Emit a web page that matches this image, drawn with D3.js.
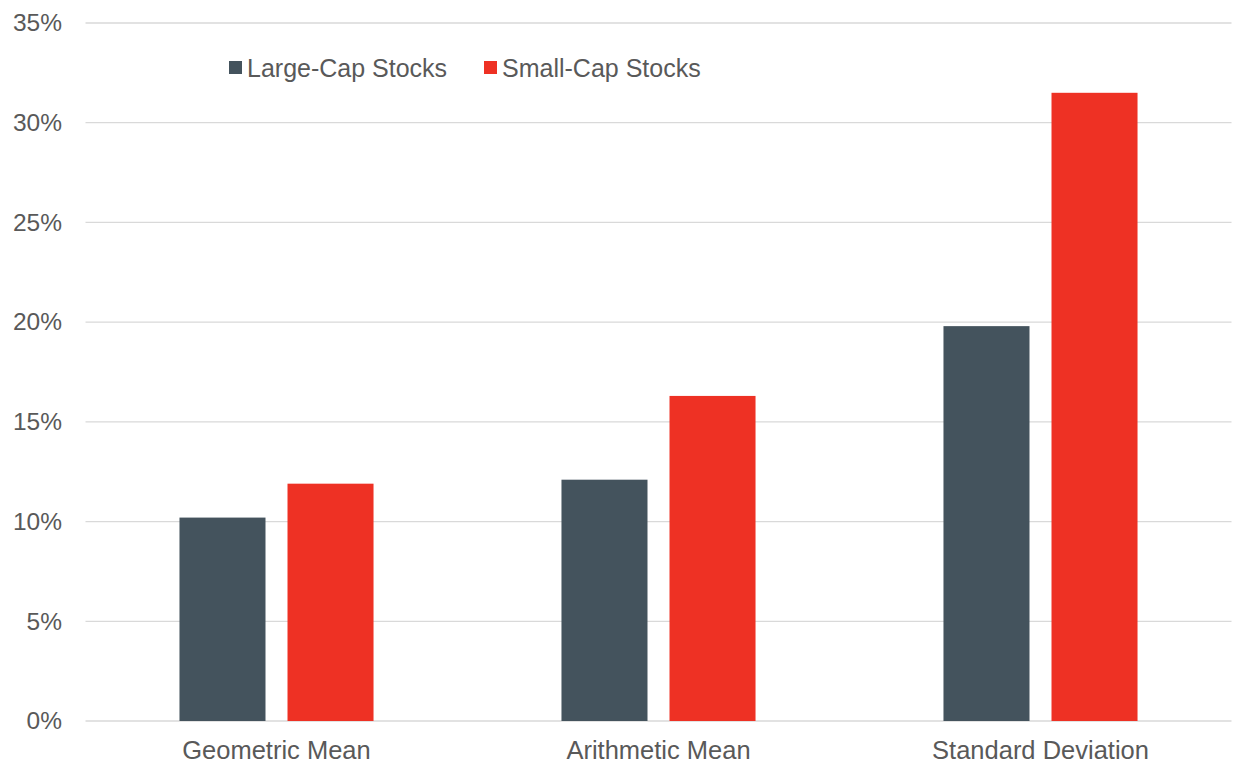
<!DOCTYPE html>
<html><head><meta charset="utf-8">
<script src="https://cdn.jsdelivr.net/npm/d3@7"></script>
<style>body{margin:0;background:#fff;}svg{display:block;font-family:"Liberation Sans",Arial,sans-serif;}</style>
</head><body>
<svg id="chart" width="1233" height="764"></svg>
<script>
const categories = ["Geometric Mean", "Arithmetic Mean", "Standard Deviation"];
const seriesNames = ["Large-Cap Stocks", "Small-Cap Stocks"];
const largeCap = [10.2, 12.1, 19.8];
const smallCap = [11.9, 16.3, 31.5];
const yTicks = [0, 5, 10, 15, 20, 25, 30, 35];
const colors = ["#44535d", "#ee3124"];

const svg = d3.select("#chart");
const W = 1233, H = 764;
const m = {left: 85.5, right: 1.5, top: 23, bottom: 43};
const x0 = d3.scaleBand().domain(categories).range([m.left, W - m.right]).padding(0);
const y = d3.scaleLinear().domain([0, 35]).range([H - m.bottom, m.top]);
const bw = x0.bandwidth();
const groupW = bw * 0.508;
const x1 = d3.scaleBand().domain(seriesNames)
  .range([(bw - groupW) / 2, (bw + groupW) / 2]).paddingInner(0.2037).paddingOuter(0);

// gridlines
svg.append("g").selectAll("line").data(yTicks).join("line")
  .attr("x1", m.left).attr("x2", W - m.right)
  .attr("y1", d => y(d)).attr("y2", d => y(d))
  .attr("stroke", "#d9d9d9").attr("stroke-width", 1.3);

// y axis labels
const yAxis = d3.axisLeft(y).tickValues(yTicks).tickFormat(d => d + "%").tickSize(0).tickPadding(0);
const gy = svg.append("g").attr("transform", `translate(62,0)`).call(yAxis);
gy.select(".domain").remove();
gy.selectAll("text").attr("fill", "#595959").style("font-size", "24.5px")
  .style("font-family", "'Liberation Sans',Arial,sans-serif");

// x axis labels
const xAxis = d3.axisBottom(x0).tickSize(0).tickPadding(0);
const gx = svg.append("g").attr("transform", `translate(0,${H - m.bottom + 20})`).call(xAxis);
gx.select(".domain").remove();
gx.selectAll("text").attr("fill", "#595959").style("font-size", "25.5px")
  .style("font-family", "'Liberation Sans',Arial,sans-serif");

// bars
const data = categories.map((c, i) => ({cat: c, vals: [largeCap[i], smallCap[i]]}));
const groups = svg.append("g").selectAll("g").data(data).join("g")
  .attr("transform", d => `translate(${x0(d.cat)},0)`);
groups.selectAll("rect").data(d => d.vals.map((v, j) => ({name: seriesNames[j], v, j})))
  .join("rect")
  .attr("x", d => x1(d.name)).attr("width", x1.bandwidth())
  .attr("y", d => y(d.v)).attr("height", d => y(0) - y(d.v))
  .attr("fill", d => colors[d.j]);

// legend
const legendX = [229, 484];
const leg = svg.append("g").selectAll("g").data(seriesNames).join("g")
  .attr("transform", (d, i) => `translate(${legendX[i]},61)`);
leg.append("rect").attr("width", 13).attr("height", 13).attr("fill", (d, i) => colors[i]);
leg.append("text").attr("x", 18).attr("y", 15.5).text(d => d)
  .attr("fill", "#595959").style("font-size", "25px");
</script>
</body></html>
